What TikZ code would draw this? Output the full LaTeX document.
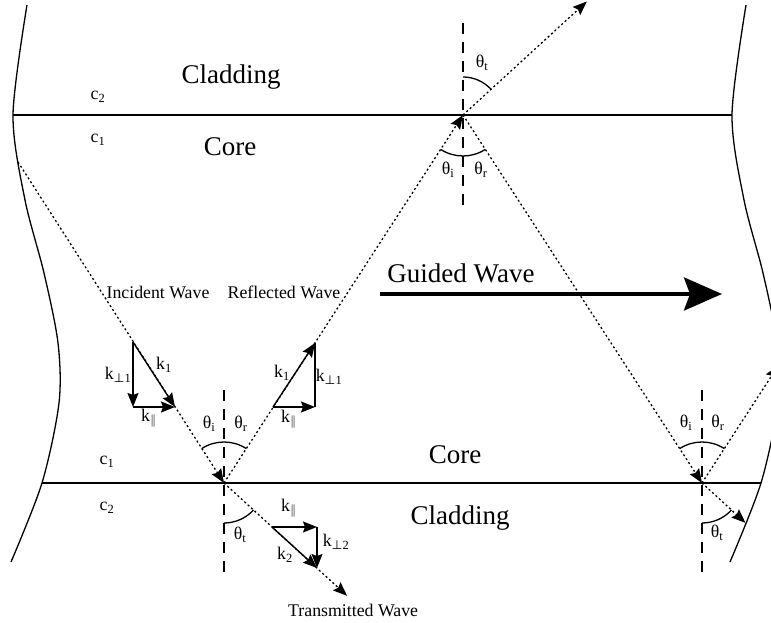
\documentclass[tikz,border=0pt]{standalone}
\usepackage{fontspec}
\setmainfont{Liberation Serif}
\newfontfamily\symfont{DejaVu Sans}
\usetikzlibrary{arrows.meta,calc}

\newcommand{\smallfs}{\fontsize{17.8}{21}\selectfont}
\newcommand{\bigfs}{\fontsize{27}{32}\selectfont}
\newcommand{\perpsub}[1]{k\textsubscript{{\symfont ⊥}#1}}
\newcommand{\parsub}{k\textsubscript{{\color{black!55}\symfont ∥}}}

\tikzset{
  wall/.style={line width=1.3pt},
  ray/.style={line width=1.3pt, dash pattern=on 2pt off 2.6pt},
  normal/.style={line width=1.3pt, dash pattern=on 11pt off 8pt},
  raytip/.style={-{Stealth[length=14pt,width=11pt,inset=2pt]}},
  vec/.style={line width=1.4pt, -{Stealth[length=14pt,width=11pt,inset=2pt]}},
  lab/.style={font=\smallfs, inner sep=0pt},
  biglab/.style={font=\bigfs, inner sep=0pt}
}

\begin{document}
\begin{tikzpicture}[x=1pt, y=1pt]
\useasboundingbox (0,0) rectangle (771,623);
\clip (0,0) rectangle (771,623);

% Fibre walls
\draw [wall] plot[smooth] coordinates {(27,618) (13,508) (25,423) (44,350) (58,280) (59,220) (42,140) (11,61)};
\begin{scope}[xshift=719pt]
\draw [wall] plot[smooth] coordinates {(27,618) (13,508) (25,423) (44,350) (58,280) (59,220) (42,140) (11,61)};
\end{scope}

% Interfaces
\coordinate (topL) at (13,508);
\coordinate (topR) at (732,508);
\coordinate (botL) at (42,140);
\coordinate (botR) at (761,140);
\draw [wall] (topL) -- (topR);
\draw [wall] (botL) -- (botR);

% Reflection points and ray ends
\coordinate (start) at (18,461);
\coordinate (rA) at (224,140);
\coordinate (rB) at (463,508);
\coordinate (rC) at (702,140);
\coordinate (outB) at ($(rB)+(42.5:168)$);
\coordinate (outA) at ($(rA)+(-42.5:167)$);
\coordinate (outC) at ($(rC)+(-42.5:59)$);
\coordinate (outR) at ($(rC)+(57:140)$);

% Rays
\draw [ray, raytip] (start) -- (rA);
\draw [ray, raytip] (rA) -- (rB);
\draw [ray, raytip] (rB) -- (rC);
\draw [ray, raytip] (rC) -- (outR);
\draw [ray, raytip] (rB) -- (outB);
\draw [ray, raytip] (rA) -- (outA);
\draw [ray, raytip] (rC) -- (outC);

% Normals
\coordinate (nB1) at (463,600);
\coordinate (nB2) at (463,418);
\coordinate (nA1) at (224,233);
\coordinate (nA2) at (224,51);
\coordinate (nC1) at (702,233);
\coordinate (nC2) at (702,50);
\draw [normal] (nB1) -- (nB2);
\draw [normal] (nA1) -- (nA2);
\draw [normal] (nC1) -- (nC2);

% Angle arcs
\draw [wall] (rB) ++(90:38) arc[start angle=90, end angle=42.5, radius=38];
\draw [wall] (rB) ++(237:41) arc[start angle=237, end angle=303, radius=41];
\draw [wall] (rA) ++(57:41) arc[start angle=57, end angle=123, radius=41];
\draw [wall] (rA) ++(270:40) arc[start angle=270, end angle=317.5, radius=40];
\draw [wall] (rC) ++(57:41) arc[start angle=57, end angle=123, radius=41];
\draw [wall] (rC) ++(270:40) arc[start angle=270, end angle=317.5, radius=40];

% Angle labels
\node (thetaTB) [lab] at (482,560) {θ\textsubscript{t}};
\node (thetaIB) [lab] at (448,453) {θ\textsubscript{i}};
\node (thetaRB) [lab] at (481,453) {θ\textsubscript{r}};
\node (thetaIA) [lab] at (209,199) {θ\textsubscript{i}};
\node (thetaRA) [lab] at (241,199) {θ\textsubscript{r}};
\node (thetaTA) [lab] at (240,88) {θ\textsubscript{t}};
\node (thetaIC) [lab] at (686,200) {θ\textsubscript{i}};
\node (thetaRC) [lab] at (718,200) {θ\textsubscript{r}};
\node (thetaTC) [lab] at (717,90) {θ\textsubscript{t}};

% Wave vector triangles
\coordinate (incTop) at (133,281);
\coordinate (incCor) at (133,216);
\coordinate (incEnd) at (175,216);
\draw [vec] (incTop) -- (incEnd);
\draw [vec] (incTop) -- (incCor);
\draw [vec] (incCor) -- (incEnd);

\coordinate (refBeg) at (273,216);
\coordinate (refCor) at (315,216);
\coordinate (refTop) at (315,280);
\draw [vec] (refBeg) -- (refTop);
\draw [vec] (refBeg) -- (refCor);
\draw [line width=1.4pt] (refCor) -- (refTop);

\coordinate (trBeg) at (272,96);
\coordinate (trCor) at (317,96);
\coordinate (trEnd) at (317,55);
\draw [vec] (trBeg) -- (trEnd);
\draw [vec] (trBeg) -- (trCor);
\draw [vec] (trCor) -- (trEnd);

% Wave vector labels
\node (kIncOne) [lab] at (164,258) {k\textsubscript{1}};
\node (kIncPerp) [lab] at (118,248) {\perpsub{1}};
\node (kIncPar) [lab] at (149,205) {\parsub};
\node (kRefOne) [lab] at (282,250) {k\textsubscript{1}};
\node (kRefPerp) [lab] at (329,246) {\perpsub{1}};
\node (kRefPar) [lab] at (289,204) {\parsub};
\node (kTrPar) [lab] at (289,115) {\parsub};
\node (kTrPerp) [lab] at (336,81) {\perpsub{2}};
\node (kTrTwo) [lab] at (285,68) {k\textsubscript{2}};

% Region labels
\node (claddingTop) [biglab] at (231,546) {Cladding};
\node (coreTop) [biglab] at (230,476) {Core};
\node (coreBot) [biglab] at (455,168) {Core};
\node (claddingBot) [biglab] at (460,105) {Cladding};
\node (cTwoTop) [lab] at (98,526) {c\textsubscript{2}};
\node (cOneTop) [lab] at (98,483) {c\textsubscript{1}};
\node (cOneBot) [lab] at (107,161) {c\textsubscript{1}};
\node (cTwoBot) [lab] at (107,115) {c\textsubscript{2}};

% Wave names
\node (incident) [lab] at (158,331) {Incident Wave};
\node (reflected) [lab] at (284,331) {Reflected Wave};
\node (transmitted) [lab, anchor=west] at (288,13) {Transmitted Wave};

% Guided wave arrow
\node (guided) [biglab] at (461,350) {Guided Wave};
\coordinate (gwBeg) at (380,329);
\coordinate (gwEnd) at (722,329);
\draw [line width=4pt, -{Stealth[length=38pt,width=33pt,inset=6pt]}] (gwBeg) -- (gwEnd);
\end{tikzpicture}
\end{document}
